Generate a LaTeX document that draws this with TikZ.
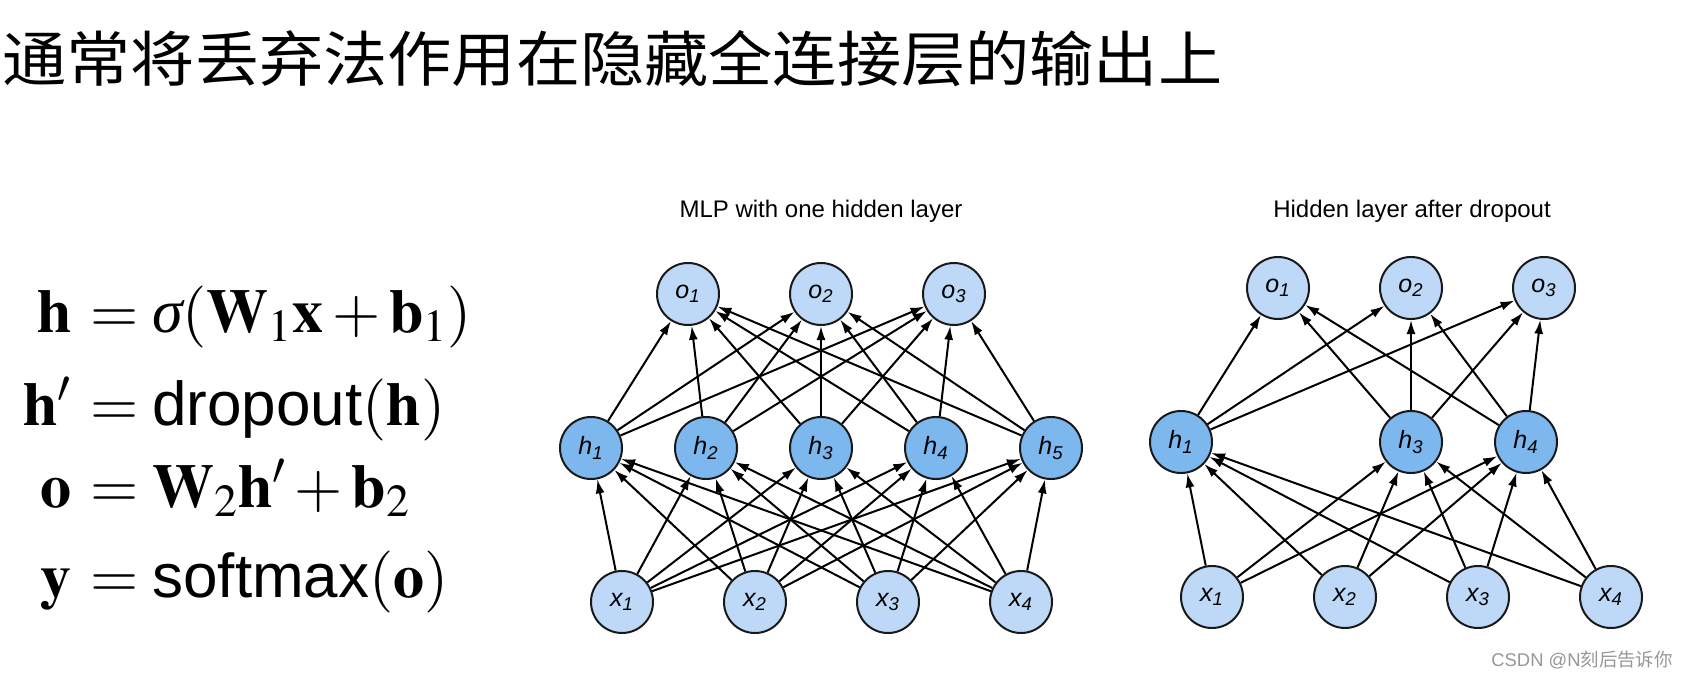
\documentclass[tikz,border=0pt]{standalone}
\usepackage{mathptmx}
\usepackage[no-math]{fontspec}
\setmainfont{Liberation Serif}
\setsansfont{Liberation Sans}
\newfontfamily\cjkfont{Noto Sans CJK SC}
\newfontfamily\headfont[FakeStretch=1.07]{Noto Sans CJK SC}
\usetikzlibrary{arrows.meta}
\definecolor{lightnode}{RGB}{189,217,247}
\definecolor{hiddennode}{RGB}{124,183,238}
\definecolor{marktext}{RGB}{150,150,150}
\tikzset{%
  >={Latex[width=4.5pt,length=7pt]},
  % Specifications for style of nodes:
      neuron/.style = {circle, draw=black!90, line width=1pt,
                       minimum size=31pt, inner sep=0pt,
                       font=\sffamily\itshape\fontsize{12.5}{12}\selectfont},
       inout/.style = {neuron, fill=lightnode},
      hidden/.style = {neuron, fill=hiddennode},
        link/.style = {->, line width=1pt},
     caption/.style = {font=\sffamily\fontsize{12}{14}\selectfont},
         eqn/.style = {inner sep=0pt, font=\fontsize{31}{37}\selectfont},
}

\begin{document}
\begin{tikzpicture}[x=0.5pt, y=-0.5pt]
  \useasboundingbox (0,0) rectangle (1689,678);
  % Heading of the slide
  \node[anchor=base west, inner sep=0pt,
        font=\headfont\fontsize{30}{36}\selectfont] (title) at (2,82)
        {通常将丢弃法作用在隐藏全连接层的输出上};
  % Equations, aligned at the = sign
  \node[eqn, anchor=base east] (lhs1) at (72,332) {$\mathbf{h}$};
  \node[eqn, anchor=base west] (rhs1) at (90,332) {$=\mbox{\itshape σ}(\mathbf{W}_1\mathbf{x}+\mathbf{b}_1)$};
  \node[eqn, anchor=base east] (lhs2) at (72,425) {$\mathbf{h}'$};
  \node[eqn, anchor=base west] (rhs2) at (90,425) {$=\textsf{dropout}(\mathbf{h})$};
  \node[eqn, anchor=base east] (lhs3) at (72,507) {$\mathbf{o}$};
  \node[eqn, anchor=base west] (rhs3) at (90,507) {$=\mathbf{W}_2\mathbf{h}'+\mathbf{b}_2$};
  \node[eqn, anchor=base east] (lhs4) at (72,597) {$\mathbf{y}$};
  \node[eqn, anchor=base west] (rhs4) at (90,597) {$=\textsf{softmax}(\mathbf{o})$};

  % MLP with one hidden layer
  \node[caption] (mlpcap) at (821,211) {MLP with one hidden layer};
  \foreach \i/\xx in {1/688,2/821,3/954}
    \node[inout] (lo\i) at (\xx,294) {o\textsubscript{\i}};
  \foreach \i/\xx in {1/591,2/706,3/821,4/936,5/1051}
    \node[hidden] (lh\i) at (\xx,448) {h\textsubscript{\i}};
  \foreach \i/\xx in {1/622,2/755,3/888,4/1021}
    \node[inout] (lx\i) at (\xx,602) {x\textsubscript{\i}};
  \foreach \i in {1,...,5} {
    \foreach \j in {1,2,3} \draw[link] (lh\i) -- (lo\j);
    \foreach \k in {1,...,4} \draw[link] (lx\k) -- (lh\i);
  }

  % Hidden layer after dropout (h2 and h5 removed)
  \node[caption] (dropcap) at (1412,211) {Hidden layer after dropout};
  \foreach \i/\xx in {1/1278,2/1411,3/1544}
    \node[inout] (ro\i) at (\xx,288) {o\textsubscript{\i}};
  \foreach \i/\xx in {1/1181,3/1411,4/1526}
    \node[hidden] (rh\i) at (\xx,442) {h\textsubscript{\i}};
  \foreach \i/\xx in {1/1212,2/1345,3/1478,4/1611}
    \node[inout] (rx\i) at (\xx,597) {x\textsubscript{\i}};
  \foreach \i in {1,3,4} {
    \foreach \j in {1,2,3} \draw[link] (rh\i) -- (ro\j);
    \foreach \k in {1,...,4} \draw[link] (rx\k) -- (rh\i);
  }

  % watermark
  \node[anchor=east, inner sep=0pt, text=marktext,
        font=\sffamily\fontsize{9.2}{11}\selectfont] (mark) at (1673,660)
        {CSDN @N{\cjkfont 刻后告诉你}};
\end{tikzpicture}
\end{document}
